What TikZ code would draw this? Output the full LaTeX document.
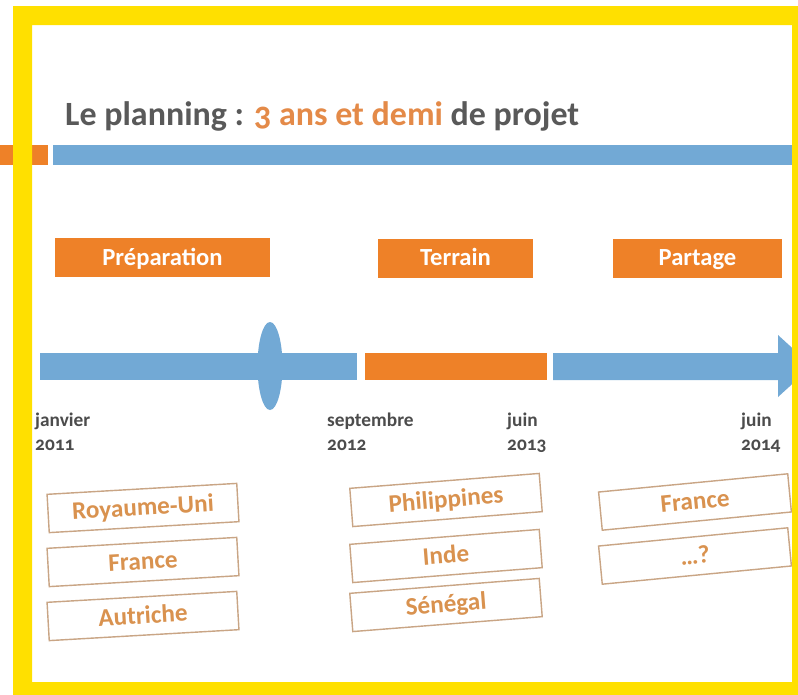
\documentclass[tikz,border=0pt]{standalone}
\usepackage{fontspec}
\setmainfont{Carlito}[Numbers=OldStyle]
\usetikzlibrary{arrows,shapes}
\definecolor{jaune}{HTML}{FFE000}
\definecolor{bleu}{HTML}{72A9D5}
\definecolor{orange}{HTML}{EE8128}
\definecolor{gris}{HTML}{595959}
\definecolor{titreor}{HTML}{E48A48}
\definecolor{cadre}{HTML}{C9A585}
\definecolor{texteor}{HTML}{D9924F}
\tikzset{
  phase/.style={fill=orange,text=white,font=\fontsize{21}{23}\selectfont\bfseries,minimum height=1.17cm,inner sep=0pt,text height=16pt,text depth=3pt},
  pays/.style={draw=cadre,line width=1.2pt,text=texteor,font=\fontsize{21.5}{23}\selectfont\bfseries,minimum width=5.7cm,minimum height=1.15cm,inner sep=0pt,text height=16pt,text depth=3pt},
  date/.style={text=gris!85!black,font=\fontsize{16.5}{20.5}\selectfont\bfseries,align=left,anchor=north west,inner sep=0pt}
}
\begin{document}
\begin{tikzpicture}[x=0.03cm,y=-0.03cm]
            \useasboundingbox (0,0) rectangle (798,695);
            \fill[white] (0,0) rectangle (798,695);
            \node[anchor=base west,inner sep=0pt,text=gris,font=\fontsize{29}{32}\selectfont\bfseries] (titre) at (65,125) {Le planning : \textcolor{titreor}{3 ans et demi} de projet};
            \fill[orange] (0,145) rectangle (48,165);
            \fill[bleu] (53,145) rectangle (798,165);

            \node[phase,minimum width=6.45cm] (prep) at (162.5,257.5) {Préparation};
            \node[phase,minimum width=4.65cm] (terrain) at (455.5,258) {Terrain};
            \node[phase,minimum width=5.07cm] (partage) at (697.5,258) {Partage};

            \fill[bleu] (40,353) rectangle (357,380);
            \fill[bleu] (270,366) ellipse (12.5 and 44);
            \fill[orange] (365,353) rectangle (547,380);
            \fill[bleu] (553,353) -- (778,353) -- (778,335) -- (812,366) -- (778,397) -- (778,380) -- (553,380) -- cycle;

            \node[date] (d1) at (35,413) {janvier\\2011};
            \node[date] (d2) at (327,413) {septembre\\2012};
            \node[date] (d3) at (507,413) {juin\\2013};
            \node[date] (d4) at (741,413) {juin\\2014};

            \foreach \nom/\y [count=\i] in {Royaume-Uni/508,France/562,Autriche/616}{
                \node[pays,rotate=3.3] (g\i) at (143,\y) {\nom};
            }
            \foreach \nom/\y [count=\i] in {Philippines/500,Inde/556,Sénégal/605}{
                \node[pays,rotate=4.5] (m\i) at (446,\y) {\nom};
            }
            \foreach \nom/\y [count=\i] in {France/502,\dots ?/556}{
                \node[pays,rotate=5.5] (d\i) at (695,\y) {\nom};
            }

            \fill[jaune,even odd rule] (13,6) rectangle (810,710) (32,25) rectangle (792,682);
        \end{tikzpicture}
\end{document}
